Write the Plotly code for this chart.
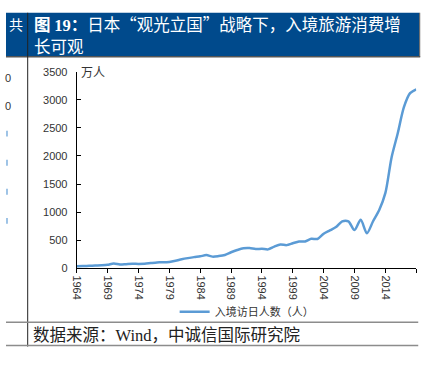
import plotly.graph_objects as go

years = list(range(1964, 2020))
visitors = [35, 37, 43, 48, 52, 61, 85, 66, 72, 78, 76, 78, 91, 103, 104, 112,
            132, 158, 179, 197, 211, 233, 206, 216, 236, 284, 324, 354, 358, 341,
            347, 335, 384, 422, 411, 444, 476, 477, 524, 521, 614, 673, 733, 835,
            835, 679, 861, 622, 836, 1036, 1341, 1974, 2404, 2869, 3119, 3188]
tick_years = [1964, 1969, 1974, 1979, 1984, 1989, 1994, 1999, 2004, 2009, 2014, 2019]
tick_labels = [str(y) for y in tick_years[:-1]] + [""]
y_ticks = [0, 500, 1000, 1500, 2000, 2500, 3000, 3500]

W, H = 435, 369
def px(x):
    return x / W
def py(y):
    return 1 - y / H

CJK = "Noto Sans CJK SC"
SANS = "Liberation Sans, Arial, Noto Sans CJK SC"
SERIF_SPAN = "<span style='font-family:Liberation Serif'>{}</span>"

fig = go.Figure()
fig.add_trace(go.Scatter(
    x=years, y=visitors, mode="lines", name="入境访日人数（人）",
    line=dict(color="#5B9BD5", width=2.5, shape="spline", smoothing=0.8),
))

fig.update_layout(
    width=W, height=H, margin=dict(l=0, r=0, t=0, b=0),
    paper_bgcolor="white", plot_bgcolor="white",
    showlegend=True,
    legend=dict(orientation="h", x=px(171), y=py(316), xanchor="left", yanchor="middle",
                font=dict(family=CJK, size=11, color="#333333"), bgcolor="rgba(0,0,0,0)",
                itemwidth=30),
    xaxis=dict(domain=[px(71.7), px(416)], range=[1964, 2019], tickmode="array",
               tickvals=tick_years, ticktext=tick_labels, tickangle=90,
               showline=True, linecolor="#000000", linewidth=1, ticks="outside",
               ticklen=4, tickcolor="#000000", showgrid=False, zeroline=False,
               tickfont=dict(family=SANS, size=11, color="#333333")),
    yaxis=dict(domain=[py(271), py(68)], range=[0, 3500], tickmode="array",
               tickvals=y_ticks, showline=True, linecolor="#000000", linewidth=1,
               ticks="inside", ticklen=4, tickcolor="#000000", showgrid=False,
               zeroline=False, ticklabelstandoff=6,
               tickfont=dict(family=SANS, size=11, color="#333333")),
)

shapes = [
    dict(type="rect", xref="paper", yref="paper", x0=px(0), x1=px(419), y0=py(52), y1=py(7),
         fillcolor="#004A8C", line=dict(width=0), layer="below"),
    dict(type="line", xref="paper", yref="paper", x0=px(0), x1=px(420), y0=py(52.5), y1=py(52.5),
         line=dict(color="#555555", width=1.5)),
    dict(type="line", xref="paper", yref="paper", x0=px(419.5), x1=px(419.5), y0=py(52.5), y1=py(7),
         line=dict(color="#555555", width=1)),
    dict(type="line", xref="paper", yref="paper", x0=px(22), x1=px(22), y0=py(352), y1=py(7),
         line=dict(color="#222222", width=1)),
    dict(type="line", xref="paper", yref="paper", x0=px(0), x1=px(418), y0=py(327), y1=py(327),
         line=dict(color="#8C8C8C", width=1.5)),
    dict(type="line", xref="paper", yref="paper", x0=px(0), x1=px(418), y0=py(351), y1=py(351),
         line=dict(color="#8C8C8C", width=1.5)),
]
for yy in [132, 162, 192, 222]:
    shapes.append(dict(type="rect", xref="paper", yref="paper", x0=px(0), x1=px(2),
                       y0=py(yy + 3), y1=py(yy - 3), fillcolor="#9DC3E6", line=dict(width=0)))
fig.update_layout(shapes=shapes)

ann = [
    dict(text="<b>图 " + SERIF_SPAN.format("19") + "：</b>日本“观光立国”战略下，入境旅游消费增",
         x=px(26), y=py(19), xanchor="left", yanchor="middle",
         font=dict(family=CJK, size=16.5, color="white")),
    dict(text="长可观", x=px(26), y=py(41), xanchor="left", yanchor="middle",
         font=dict(family=CJK, size=16.5, color="white")),
    dict(text="共", x=px(1), y=py(19), xanchor="left", yanchor="middle",
         font=dict(family=CJK, size=14, color="white")),
    dict(text="0", x=px(7), y=py(74), xanchor="right", yanchor="middle",
         font=dict(family=SANS, size=11, color="#333333")),
    dict(text="0", x=px(7), y=py(103), xanchor="right", yanchor="middle",
         font=dict(family=SANS, size=11, color="#333333")),
    dict(text="万人", x=px(74), y=py(68), xanchor="left", yanchor="middle",
         font=dict(family=CJK, size=12, color="#333333")),
    dict(text="数据来源：" + SERIF_SPAN.format("Wind") + "，中诚信国际研究院", x=px(25), y=py(339),
         xanchor="left", yanchor="middle", font=dict(family=CJK, size=16.5, color="#222222")),
]
for a in ann:
    a.update(xref="paper", yref="paper", showarrow=False)
fig.update_layout(annotations=ann)

fig.write_html("out.html", config={"displayModeBar": False},
               post_script="document.body.style.margin='0';")
